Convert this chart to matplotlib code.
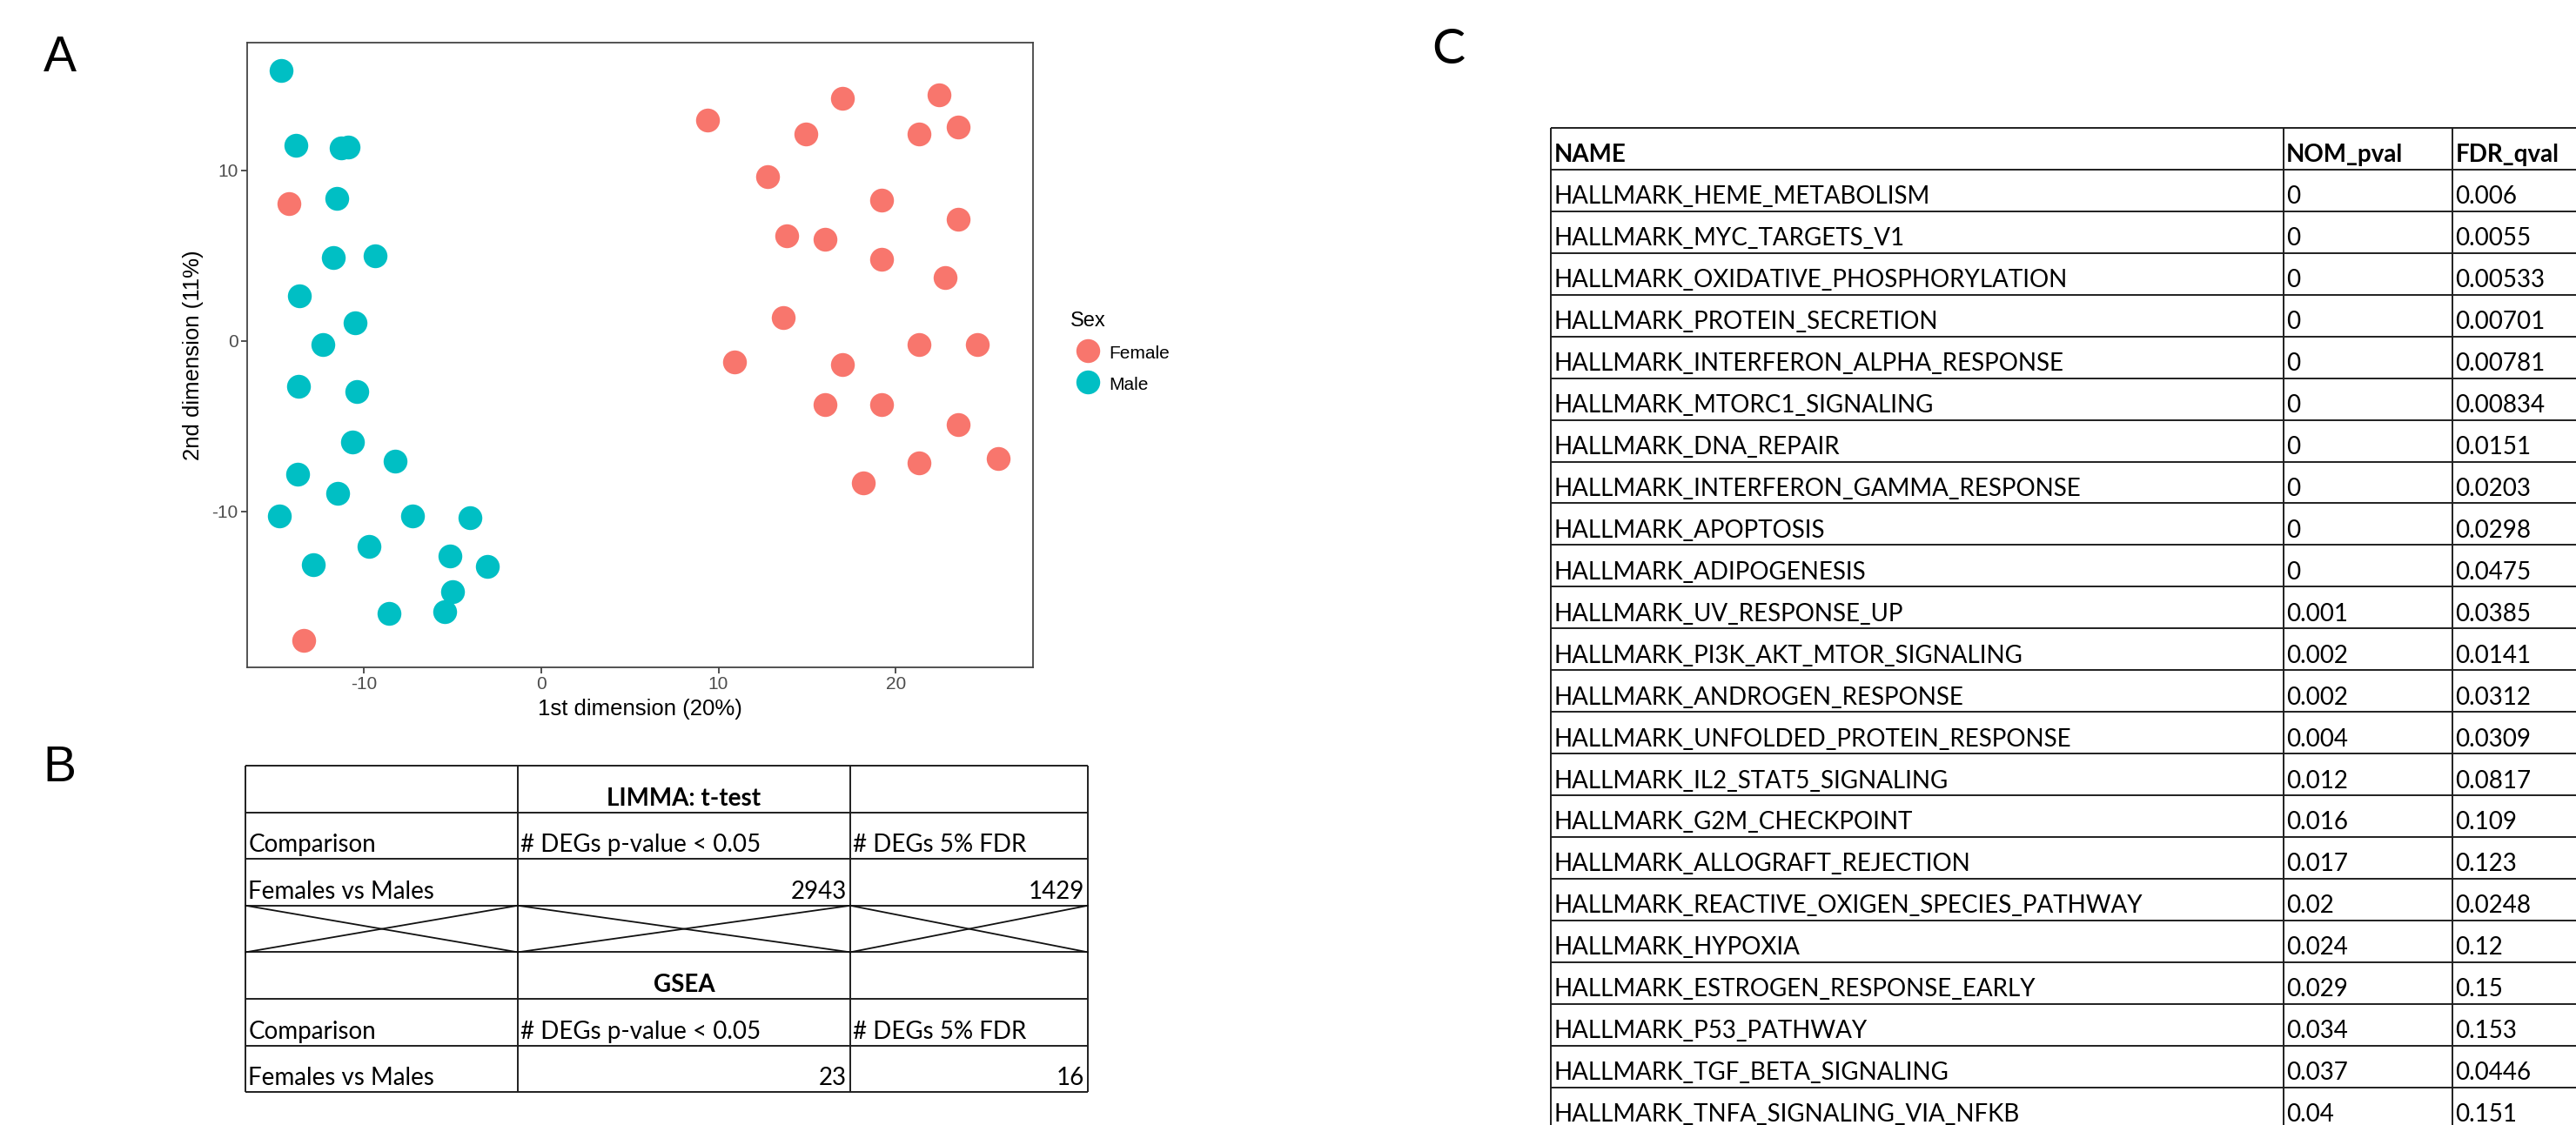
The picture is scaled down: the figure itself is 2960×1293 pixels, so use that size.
import matplotlib
matplotlib.use("Agg")
import matplotlib.pyplot as plt
from matplotlib.font_manager import FontProperties
from matplotlib.textpath import TextPath

W, H, DPI = 2960, 1293, 100

# ---- panel A: MDS plot, coordinates ----
female_x = [-14.20, -13.39, 9.40, 17.01, 22.43, 14.94, 21.33, 23.52, 12.78, 19.21,
            23.52, 13.84, 15.99, 19.21, 22.79, 13.63, 21.33, 24.58, 10.91, 17.01,
            15.99, 19.21, 23.52, 21.33, 25.76, 18.15]
female_y = [8.05, -17.54, 12.95, 14.25, 14.44, 12.12, 12.12, 12.53, 9.65, 8.27,
            7.14, 6.17, 5.95, 4.79, 3.71, 1.38, -0.22, -0.22, -1.24, -1.38,
            -3.73, -3.73, -4.92, -7.14, -6.89, -8.33]
male_x = [-14.65, -13.84, -11.30, -10.90, -11.52, -11.72, -9.36, -13.63, -10.50, -12.33,
          -13.68, -10.42, -10.66, -8.26, -13.72, -11.48, -14.77, -7.24, -4.03, -9.69,
          -12.86, -5.13, -3.01, -5.01, -8.59, -5.45]
male_y = [15.85, 11.48, 11.30, 11.40, 8.38, 4.90, 4.98, 2.63, 1.05, -0.22,
          -2.68, -2.96, -5.95, -7.03, -7.80, -8.93, -10.24, -10.24, -10.35, -12.03,
          -13.11, -12.59, -13.20, -14.69, -15.96, -15.88]
x_ticks = [-10, 0, 10, 20]
y_ticks = [-10, 0, 10]
female_color = "#F8766D"
male_color = "#00BFC4"

# ---- panel B: DEG summary ----
comparison = "Females vs Males"
count_headers = ["Comparison", "# DEGs p-value < 0.05", "# DEGs 5% FDR"]
limma_counts = [2943, 1429]
gsea_counts = [23, 16]

# ---- panel C: GSEA hallmark results ----
c_headers = ["NAME", "NOM_pval", "FDR_qval"]
hallmark_names = [
    "HALLMARK_HEME_METABOLISM", "HALLMARK_MYC_TARGETS_V1",
    "HALLMARK_OXIDATIVE_PHOSPHORYLATION", "HALLMARK_PROTEIN_SECRETION",
    "HALLMARK_INTERFERON_ALPHA_RESPONSE", "HALLMARK_MTORC1_SIGNALING",
    "HALLMARK_DNA_REPAIR", "HALLMARK_INTERFERON_GAMMA_RESPONSE",
    "HALLMARK_APOPTOSIS", "HALLMARK_ADIPOGENESIS", "HALLMARK_UV_RESPONSE_UP",
    "HALLMARK_PI3K_AKT_MTOR_SIGNALING", "HALLMARK_ANDROGEN_RESPONSE",
    "HALLMARK_UNFOLDED_PROTEIN_RESPONSE", "HALLMARK_IL2_STAT5_SIGNALING",
    "HALLMARK_G2M_CHECKPOINT", "HALLMARK_ALLOGRAFT_REJECTION",
    "HALLMARK_REACTIVE_OXIGEN_SPECIES_PATHWAY", "HALLMARK_HYPOXIA",
    "HALLMARK_ESTROGEN_RESPONSE_EARLY", "HALLMARK_P53_PATHWAY",
    "HALLMARK_TGF_BETA_SIGNALING", "HALLMARK_TNFA_SIGNALING_VIA_NFKB"]
nom_pval = [0, 0, 0, 0, 0, 0, 0, 0, 0, 0, 0.001, 0.002, 0.002, 0.004, 0.012,
            0.016, 0.017, 0.02, 0.024, 0.029, 0.034, 0.037, 0.04]
fdr_qval = [0.006, 0.0055, 0.00533, 0.00701, 0.00781, 0.00834, 0.0151, 0.0203,
            0.0298, 0.0475, 0.0385, 0.0141, 0.0312, 0.0309, 0.0817, 0.109, 0.123,
            0.0248, 0.12, 0.15, 0.153, 0.0446, 0.151]

plt.rcParams["font.family"] = "Liberation Sans"
plt.rcParams["axes.unicode_minus"] = False

TABLE_FONT = "Lato"


def fit_size(text, target_px, family, weight="normal"):
    # font size (pt) that makes the ink width of text equal target_px
    fp = FontProperties(family=family, weight=weight)
    w = TextPath((0, 0), text, size=100, prop=fp).get_extents().width
    return target_px * 100.0 / w * 72.0 / DPI


def fig_rect(left, top, right, bottom):
    return [left / W, 1 - bottom / H, (right - left) / W, (bottom - top) / H]


fig = plt.figure(figsize=(W / DPI, H / DPI), dpi=DPI)

# ---------------- panel A ----------------
ax = fig.add_axes(fig_rect(283.6, 48.8, 1187.4, 767.5))
ax.scatter(female_x, female_y, s=390, color=female_color, linewidths=0, label="Female")
ax.scatter(male_x, male_y, s=390, color=male_color, linewidths=0, label="Male")
ax.set_xlim(-16.6, 27.76)
ax.set_ylim(-19.17, 17.51)
ax.set_xticks(x_ticks)
ax.set_yticks(y_ticks)
ax.set_xticklabels([str(t) for t in x_ticks])
ax.set_yticklabels([str(t) for t in y_ticks])
for sp in ax.spines.values():
    sp.set_color("#444444")
    sp.set_linewidth(1.3)
ax.tick_params(length=4.7, width=1.2, color="#333333", labelsize=15,
               labelcolor="#4D4D4D", pad=2.5)
ax.set_xlabel("1st dimension (20%)", fontsize=18.5)
ax.set_ylabel("2nd dimension (11%)", fontsize=18.5)
ax.xaxis.set_label_coords(0.5, (767.5 - 815) / 718.7)
ax.xaxis.label.set_va("center")
ax.yaxis.set_label_coords((222 - 283.6) / 903.8, 0.5)
ax.yaxis.label.set_va("center")

handles, labels = ax.get_legend_handles_labels()
fig.legend(handles, labels, title="Sex", loc="upper left",
           bbox_to_anchor=(1219 / W, 1 - 348 / H), frameon=False,
           fontsize=15, title_fontsize=17, borderpad=0, handletextpad=0.15,
           labelspacing=0.6, handleheight=1.4, alignment="left")

# ---------------- overlay for tables and panel letters ----------------
ov = fig.add_axes([0, 0, 1, 1], facecolor="none")
ov.set_xlim(0, W)
ov.set_ylim(H, 0)
ov.axis("off")

ov.text(50, 81.7, "A", fontsize=41, family="Liberation Sans", va="baseline")
ov.text(49, 898, "B", fontsize=41, family="Liberation Sans", va="baseline")
ov.text(1645, 73.3, "C", fontsize=41, family=TABLE_FONT, va="baseline")

fs_tab = fit_size("HALLMARK_HEME_METABOLISM", 429, TABLE_FONT)
LINE = dict(color="#1f1f1f", linewidth=1.4)


def cell_text(x0, x1, y_bottom, s, align="l", bold=False, lift=8.0):
    if align == "l":
        x, ha = x0 + 3, "left"
    elif align == "r":
        x, ha = x1 - 4, "right"
    else:
        x, ha = (x0 + x1) / 2, "center"
    ov.text(x, y_bottom - lift, s, ha=ha, va="baseline", fontsize=fs_tab,
            family=TABLE_FONT, weight="bold" if bold else "normal", color="black")


# ---------------- panel B ----------------
b_cols = [282.3, 595, 977, 1250]
b_top, b_step = 880, 53.6
b_rows = [
    [("", "l", False), ("LIMMA: t-test", "c", True), ("", "l", False)],
    [(h, "l", False) for h in count_headers],
    [(comparison, "l", False)] + [(str(v), "r", False) for v in limma_counts],
    None,
    [("", "l", False), ("GSEA", "c", True), ("", "l", False)],
    [(h, "l", False) for h in count_headers],
    [(comparison, "l", False)] + [(str(v), "r", False) for v in gsea_counts],
]
b_lines = [b_top + i * b_step for i in range(len(b_rows) + 1)]
ov.hlines(b_lines, b_cols[0], b_cols[-1], **LINE)
ov.vlines(b_cols, b_lines[0], b_lines[-1], **LINE)
for r, row in enumerate(b_rows):
    y0, y1 = b_lines[r], b_lines[r + 1]
    if row is None:
        # crossed-out empty row
        for c in range(3):
            x0, x1 = b_cols[c], b_cols[c + 1]
            ov.plot([x0, x1], [y0, y1], color="#111111", linewidth=1.3)
            ov.plot([x0, x1], [y1, y0], color="#111111", linewidth=1.3)
        continue
    for c, (s, al, bd) in enumerate(row):
        if s:
            cell_text(b_cols[c], b_cols[c + 1], y1, s, al, bd)

# ---------------- panel C ----------------
c_cols = [1782.3, 2624, 2818.3, W + 40]
c_top, c_step = 146.9, 47.95
c_rows = [[(h, True) for h in c_headers]]
for name, p, q in zip(hallmark_names, nom_pval, fdr_qval):
    c_rows.append([(name, False), (f"{p:g}", False), (f"{q:g}", False)])
c_lines = [c_top + i * c_step for i in range(len(c_rows) + 1)]
ov.hlines(c_lines, c_cols[0], c_cols[-1], **LINE)
ov.vlines(c_cols[:3], c_lines[0], c_lines[-1], **LINE)
for r, row in enumerate(c_rows):
    for c, (s, bd) in enumerate(row):
        cell_text(c_cols[c], c_cols[c + 1], c_lines[r + 1], s, "l", bd, lift=8.6)

fig.savefig("out.png", dpi=DPI)
